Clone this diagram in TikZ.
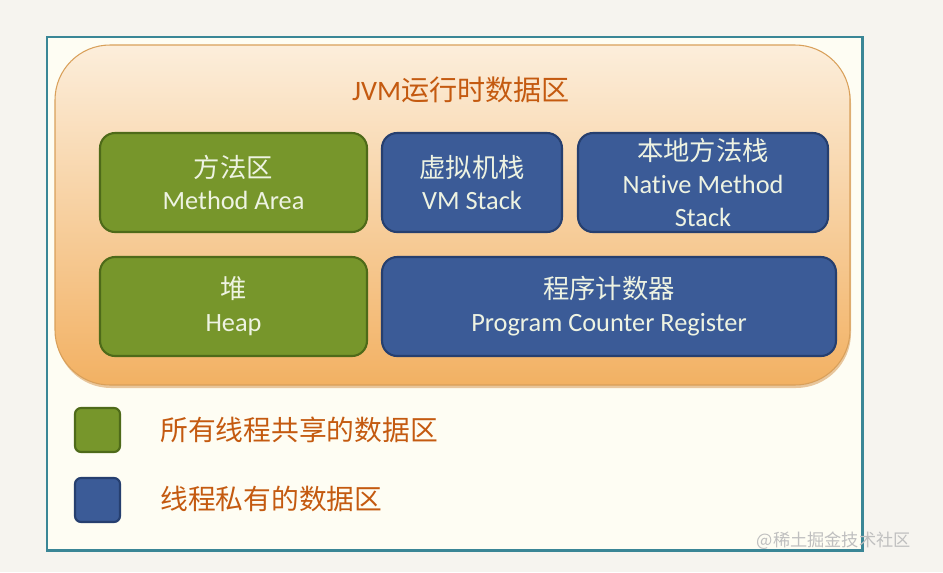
\documentclass[tikz,border=0pt]{standalone}
\usepackage{fontspec}
\setmainfont{Carlito}[Ligatures=NoCommon]
\newfontfamily\cjk{Noto Sans CJK SC}
\usetikzlibrary{positioning}
\definecolor{pagebg}{HTML}{F6F4EF}
\definecolor{framecol}{HTML}{3A8696}
\definecolor{slidebg}{HTML}{FEFDF3}
\definecolor{runtop}{HTML}{FCEEDB}
\definecolor{runbot}{HTML}{F2B163}
\definecolor{runedge}{HTML}{D9A05A}
\definecolor{jvmgreen}{HTML}{77962B}
\definecolor{jvmgreendark}{HTML}{4E6A19}
\definecolor{jvmblue}{HTML}{3B5B97}
\definecolor{jvmbluedark}{HTML}{263F6F}
\definecolor{boxtext}{HTML}{EEF3E2}
\definecolor{jvmtitle}{HTML}{C45A10}

\begin{document}
\begin{tikzpicture}[x=0.02cm,y=-0.02cm,
  area/.style={rounded corners=0.3cm,line width=1.2pt,minimum height=1.98cm,
               inner sep=0pt,align=center,text=boxtext,
               font=\fontsize{15}{18.7}\selectfont},
  shared/.style={area,fill=jvmgreen,draw=jvmgreendark},
  private/.style={area,fill=jvmblue,draw=jvmbluedark},
  key/.style={rounded corners=0.12cm,line width=1.2pt,minimum width=0.9cm,
              minimum height=0.88cm,inner sep=0pt},
  keytxt/.style={anchor=west,inner sep=0pt,text=jvmtitle,
                 font=\cjk\fontsize{15.8}{18}\selectfont}
]

% ---- Page and slide --------------------------------------------
\useasboundingbox (0,0) rectangle (943,572);
\fill[pagebg] (0,0) rectangle (943,572);
\draw[framecol,line width=1.7pt,fill=slidebg] (47,37) rectangle (862,550);

% ---- Runtime data area -----------------------------------------
\fill[runedge!60,rounded corners=1.1cm] (56,48) rectangle (851,388);
\shade[top color=runtop,bottom color=runbot,rounded corners=1.1cm]
  (55,45) rectangle (850,385);
\draw[runedge,line width=0.6pt,rounded corners=1.1cm] (55,45) rectangle (850,385);
\node[text=jvmtitle,font=\fontsize{16}{18}\selectfont] (title) at (461,90)
  {JVM{\cjk 运行时数据区}};

% ---- Row 1 -----------------------------------------------------
\node[shared,minimum width=5.34cm]  (method) at (233.5,182.5)
  {{\cjk 方法区}\\Method Area};
\node[private,minimum width=3.6cm]  (vmstack) at (472,182.5)
  {{\cjk 虚拟机栈}\\VM Stack};
\node[private,minimum width=5.0cm]  (native) at (703,182.5)
  {{\cjk 本地方法栈}\\Native Method\\Stack};

% ---- Row 2 -----------------------------------------------------
\node[shared,minimum width=5.34cm]  (heap) at (233.5,306.5)
  {{\cjk 堆}\\Heap};
\node[private,minimum width=9.08cm] (pc) at (609,306.5)
  {{\cjk 程序计数器}\\Program Counter Register};

% ---- Legend ----------------------------------------------------
\node[key,fill=jvmgreen,draw=jvmgreendark] (keyshared) at (97.5,430) {};
\node[keytxt] (txtshared) at (160,430) {所有线程共享的数据区};
\node[key,fill=jvmblue,draw=jvmbluedark]   (keyprivate) at (97.5,500) {};
\node[keytxt] (txtprivate) at (160,499) {线程私有的数据区};

% watermark
\node[text=black!25,font=\cjk\fontsize{9.8}{11}\selectfont,anchor=east]
  (mark) at (917,541) {@稀土掘金技术社区};

\end{tikzpicture}
\end{document}
